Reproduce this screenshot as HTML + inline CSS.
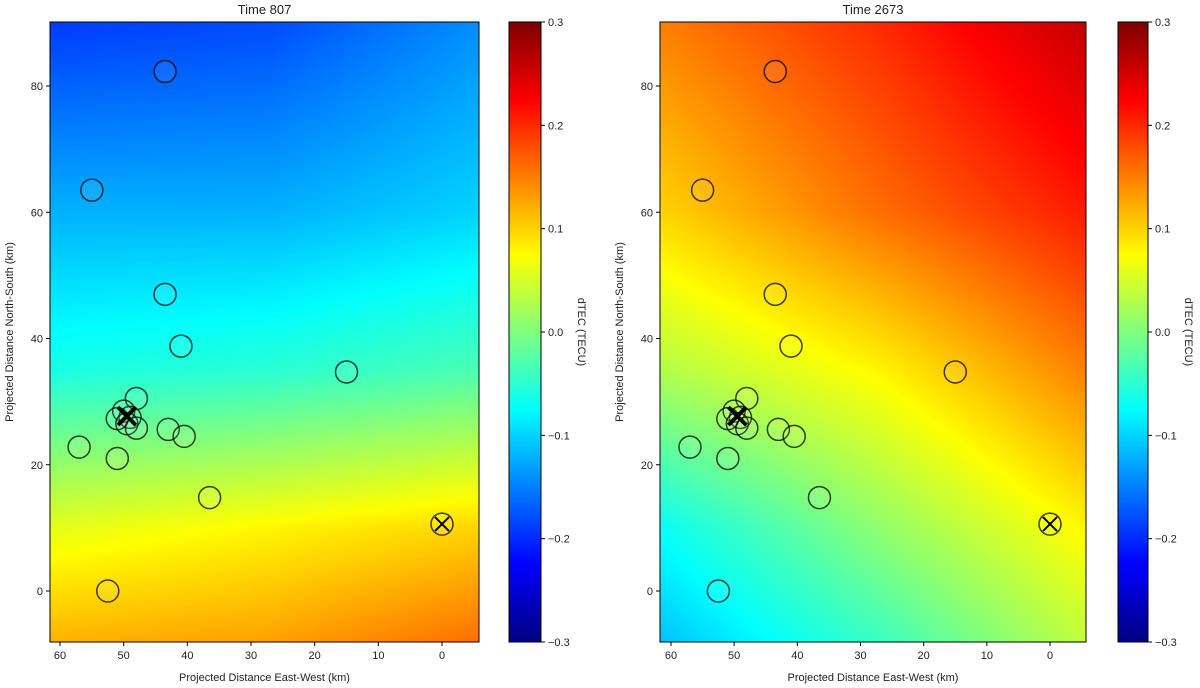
<!DOCTYPE html>
<html><head><meta charset="utf-8">
<style>
body{margin:0;background:#fff;width:1200px;height:688px;overflow:hidden;font-family:"Liberation Sans",sans-serif}
svg{position:absolute;left:0;top:0}
canvas{position:absolute}
</style></head>
<body>
<canvas id="c1" width="429" height="620" style="left:50px;top:22px"></canvas>
<canvas id="c2" width="426" height="620" style="left:660px;top:22px"></canvas>
<canvas id="cb1" width="32" height="620" style="left:509px;top:22px"></canvas>
<canvas id="cb2" width="30" height="620" style="left:1118px;top:22px"></canvas>
<svg id="s" width="1200" height="688"></svg>
<script>
// station locations (km)
var stationX=[43.5,55,43.5,41,15,48,50,49,51,49.5,48,43,40.5,57,51,36.5,0,52.5];
var stationY=[82.3,63.5,47,38.8,34.7,30.5,28.5,27.5,27.3,26.5,25.8,25.6,24.5,22.8,21,14.8,10.6,0];
var markerX=[49.5,0];
var markerY=[27.7,10.6];
// field grid: columns at km x, rows at km y
var gridX=[61.6,27,-6];
var gridY=[90,60,35,10,-8];
var field807=[[-0.19,-0.18,-0.14],[-0.12,-0.12,-0.10],[-0.06,-0.05,-0.03],[0.06,0.08,0.10],[0.12,0.13,0.16]];
var field2673=[[0.15,0.20,0.26],[0.10,0.16,0.21],[0.03,0.08,0.15],[-0.07,0.01,0.08],[-0.11,-0.04,0.04]];
var xTicks=[60,50,40,30,20,10,0];
var yTicks=[0,20,40,60,80];
var cTicks=[0.3,0.2,0.1,0.0,-0.1,-0.2,-0.3];
var titles=["Time 807","Time 2673"];
{
const panels=[{l:50,r:479,x60:60,x0:442,cb:509,cbw:32,f:field807,c:'c1'},{l:660,r:1086,x60:671,x0:1050,cb:1118,cbw:30,f:field2673,c:'c2'}];
const plotTop=22,plotBot=642;
const yS=v=>591+(86-591)*v/80;
function jet(v){let t=(v+0.3)/0.6;t=Math.max(0,Math.min(1,t));
 const f=a=>Math.max(0,Math.min(1,a));
 const r=f(Math.min(4*t-1.5,-4*t+4.5)),g=f(Math.min(4*t-0.5,-4*t+3.5)),b=f(Math.min(4*t+0.5,-4*t+2.5));
 return [r*255|0,g*255|0,b*255|0];}
function interp(f,x,y){
 let i=0;while(i<gridX.length-2&&x<gridX[i+1])i++;
 let j=0;while(j<gridY.length-2&&y<gridY[j+1])j++;
 let tx=(x-gridX[i])/(gridX[i+1]-gridX[i]);tx=Math.max(0,Math.min(1,tx));
 let ty=(y-gridY[j])/(gridY[j+1]-gridY[j]);ty=Math.max(0,Math.min(1,ty));
 const a=f[j][i]*(1-tx)+f[j][i+1]*tx,b=f[j+1][i]*(1-tx)+f[j+1][i+1]*tx;return a*(1-ty)+b*ty;}
const NS="http://www.w3.org/2000/svg",s=document.getElementById('s');
function el(t,a,txt){const e=document.createElementNS(NS,t);for(const k in a)e.setAttribute(k,a[k]);if(txt!==undefined)e.textContent=txt;s.appendChild(e);return e;}
panels.forEach((p,pi)=>{
 const xS=v=>p.x0+(p.x60-p.x0)*v/60;
 const xInv=px=>(px-p.x0)/(p.x60-p.x0)*60, yInv=py=>(py-591)/(86-591)*80;
 const cv=document.getElementById(p.c),ctx=cv.getContext('2d');
 const img=ctx.createImageData(cv.width,cv.height);
 for(let y=0;y<cv.height;y++)for(let x=0;x<cv.width;x++){
  const c=jet(interp(p.f,xInv(p.l+x),yInv(plotTop+y)));const k=(y*cv.width+x)*4;
  img.data[k]=c[0];img.data[k+1]=c[1];img.data[k+2]=c[2];img.data[k+3]=255;}
 ctx.putImageData(img,0,0);
 const cb=document.getElementById(pi?'cb2':'cb1'),cc=cb.getContext('2d');
 for(let y=0;y<620;y++){const c=jet(0.3-0.6*y/620);cc.fillStyle='rgb('+c.join(',')+')';cc.fillRect(0,y,cb.width,1);}
 stationX.forEach((v,i)=>{const c=el('circle',{cx:xS(v),cy:yS(stationY[i]),r:11,fill:'rgba(255,255,255,0.08)',stroke:'rgba(0,0,0,0.75)','stroke-width':1.5});
  
  });
 markerX.forEach((v,i)=>{const cx=xS(v),cy=yS(markerY[i]),d=i?7:9;
  const m=el('path',{d:`M${cx-d} ${cy-d}L${cx+d} ${cy+d}M${cx-d} ${cy+d}L${cx+d} ${cy-d}`,stroke:'#000','stroke-width':i?2:4});
  
  });
 const fr=el('rect',{x:p.l,y:plotTop,width:p.r-p.l,height:plotBot-plotTop,fill:'none',stroke:'#000','stroke-width':1});
 
 
 xTicks.forEach(v=>{const x=xS(v);el('line',{x1:x,x2:x,y1:plotBot,y2:plotBot+4,stroke:'#000'});
  const t=el('text',{x:x,y:plotBot+17,'text-anchor':'middle','font-size':11,fill:'#222'},v);
  
  });
 yTicks.forEach(v=>{const y=yS(v);el('line',{x1:p.l-4,x2:p.l,y1:y,y2:y,stroke:'#000'});
  const t=el('text',{x:p.l-7,y:y+4,'text-anchor':'end','font-size':11,fill:'#222'},v);
  
  });
 const xl=el('text',{x:(p.l+p.r)/2,y:681,'text-anchor':'middle','font-size':11,fill:'#222'},'Projected Distance East-West (km)');
 
 
 const yl=el('text',{x:0,y:0,transform:`translate(${p.l-37},332) rotate(-90)`,'text-anchor':'middle','font-size':11,fill:'#222'},'Projected Distance North-South (km)');
 
 
 const tt=el('text',{x:(p.l+p.r)/2,y:14,'text-anchor':'middle','font-size':13,fill:'#222'},titles[pi]);
 
 
 el('rect',{x:p.cb,y:plotTop,width:p.cbw,height:plotBot-plotTop,fill:'none',stroke:'#000'});
 const cr=p.cb+p.cbw;
 cTicks.forEach(v=>{const y=plotTop+(0.3-v)/0.6*(plotBot-plotTop);el('line',{x1:cr,x2:cr+4,y1:y,y2:y,stroke:'#000'});
  const t=el('text',{x:cr+7,y:y+4,'font-size':11,fill:'#222'},(v<0?'\u2212':'')+Math.abs(v).toFixed(1));
  
  });
 const cl=el('text',{x:0,y:0,transform:`translate(${cr+37},332) rotate(90)`,'text-anchor':'middle','font-size':11,fill:'#222'},'dTEC (TECU)');
 
 
});
}
</script>
</body></html>
